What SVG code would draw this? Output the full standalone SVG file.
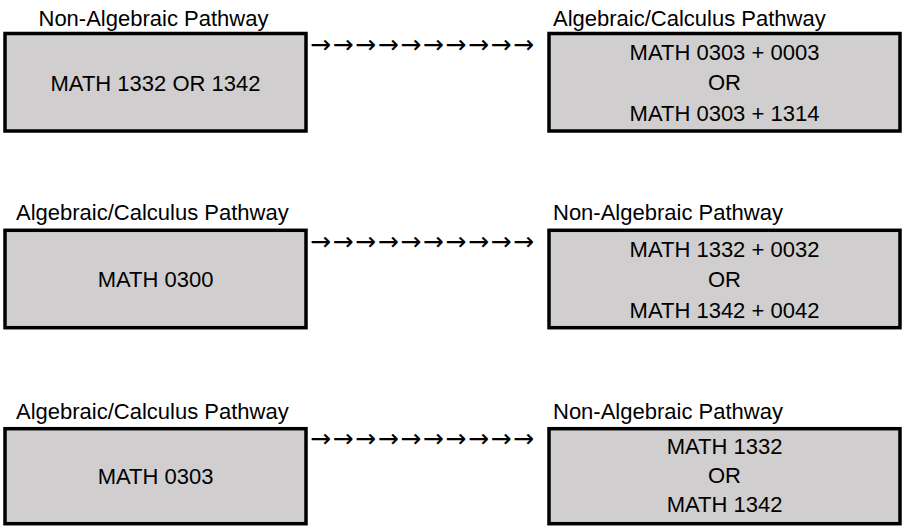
<svg xmlns="http://www.w3.org/2000/svg" width="904" height="529" viewBox="0 0 904 529">
<style>
.box{fill:#d0cece;stroke:#000;stroke-width:3.5}
text{font-family:"Liberation Sans",Arial,sans-serif;font-size:22px;fill:#000}
.c{text-anchor:middle}
.arr{font-family:"DejaVu Sans",sans-serif;font-size:25px}
</style>
<rect width="904" height="529" fill="#fff"/>
<g id="n1">
<text x="38.5" y="25.5">Non-Algebraic Pathway</text>
<rect class="box" x="5" y="33.5" width="301" height="97.5"/>
<text class="c" x="155.5" y="91">MATH 1332 OR 1342</text>
</g>
<g id="n2">
<text x="553" y="25.5">Algebraic/Calculus Pathway</text>
<rect class="box" x="549" y="33.5" width="351" height="97.5"/>
<text class="c" x="724.5" y="60">MATH 0303 + 0003</text>
<text class="c" x="724.5" y="90">OR</text>
<text class="c" x="724.5" y="120.5">MATH 0303 + 1314</text>
</g>
<g id="n3">
<text x="16" y="220">Algebraic/Calculus Pathway</text>
<rect class="box" x="5" y="230.3" width="301" height="97.4"/>
<text class="c" x="155.5" y="287">MATH 0300</text>
</g>
<g id="n4">
<text x="553" y="220">Non-Algebraic Pathway</text>
<rect class="box" x="549" y="230.3" width="351" height="97.4"/>
<text class="c" x="724.5" y="257">MATH 1332 + 0032</text>
<text class="c" x="724.5" y="287">OR</text>
<text class="c" x="724.5" y="317.5">MATH 1342 + 0042</text>
</g>
<g id="n5">
<text x="16" y="419.3">Algebraic/Calculus Pathway</text>
<rect class="box" x="5" y="428.7" width="301" height="95"/>
<text class="c" x="155.5" y="484">MATH 0303</text>
</g>
<g id="n6">
<text x="553" y="419.3">Non-Algebraic Pathway</text>
<rect class="box" x="549" y="428.7" width="351" height="95"/>
<text class="c" x="724.5" y="453.5">MATH 1332</text>
<text class="c" x="724.5" y="482.5">OR</text>
<text class="c" x="724.5" y="512">MATH 1342</text>
</g>
<g id="connectors">
<text class="arr" x="310" y="52.5" textLength="224" lengthAdjust="spacing">→→→→→→→→→→</text>
<text class="arr" x="310" y="249.5" textLength="224" lengthAdjust="spacing">→→→→→→→→→→</text>
<text class="arr" x="310" y="447" textLength="224" lengthAdjust="spacing">→→→→→→→→→→</text>
</g>
</svg>
